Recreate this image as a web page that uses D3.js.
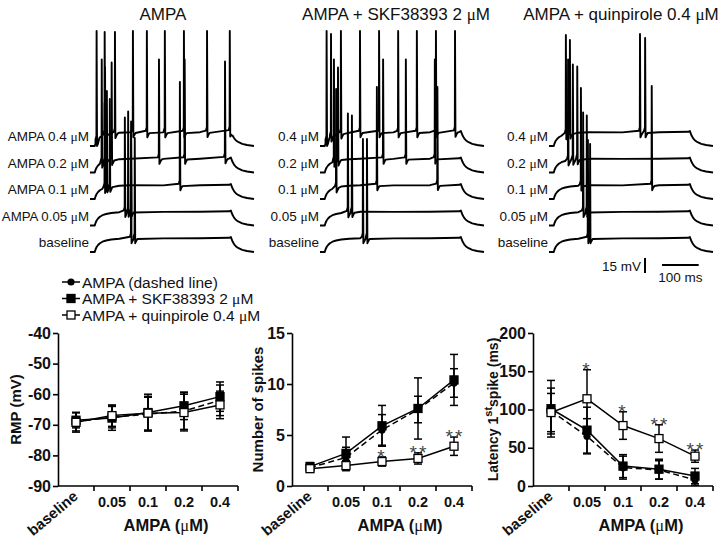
<!DOCTYPE html>
<html><head><meta charset="utf-8">
<script src="https://cdn.jsdelivr.net/npm/d3@7"></script>
<style>
body{margin:0;background:#fff}
svg{display:block}
text{font-family:Arial,"Liberation Sans",Helvetica,sans-serif;fill:#111}
</style>
</head><body>
<svg id="c" width="720" height="546"></svg>
<script>
// ---------------- DATA ----------------
const doses = ["baseline", "0.05", "0.1", "0.2", "0.4"];
const doseTickLabels = ["baseline", "0.05", "0.1", "0.2", "0.4"];
const panelTitles = ["AMPA", "AMPA + SKF38393 2 μM", "AMPA + quinpirole 0.4 μM"];
const traceLabelsAMPA = ["baseline", "AMPA 0.05 μM", "AMPA 0.1 μM", "AMPA 0.2 μM", "AMPA 0.4 μM"];
const traceLabelsOther = ["baseline", "0.05 μM", "0.1 μM", "0.2 μM", "0.4 μM"];

// passive response to the current step (ms, mV above rest)
const stepT = [0, 13, 15, 18, 22, 27, 34, 44, 58, 80, 110, 200, 300, 380, 384, 386, 389, 393, 398, 405, 415, 428, 447];
const stepV = [0, 0, 2.5, 5, 7, 8.8, 10.3, 11.5, 12.5, 13.3, 13.8, 13.6, 13.8, 14.2, 15, 12.8, 10.2, 7.6, 5.5, 3.8, 2.2, 1, 0];

// spikes per trace: [time ms, peak mV above rest]; traces ordered baseline -> 0.4
const spikesAMPA = [
  [[112, 120], [122, 114]],
  [[95, 108], [104, 114], [112, 104]],
  [[40, 96], [46, 108], [54, 100], [245, 117]],
  [[32, 113], [41, 105], [59, 110], [188, 113], [258, 113], [368, 111]],
  [[18, 115], [40, 114], [68, 114], [117, 115], [155, 115], [204, 115], [256, 115], [319, 115], [381, 115]]
];
const spikesSKF = [
  [[117, 113], [128, 113]],
  [[76, 112], [87, 110]],
  [[44, 110], [155, 112], [320, 112]],
  [[38, 113], [49, 105], [172, 113], [234, 113], [313, 113]],
  [[18, 115], [30, 112], [57, 115], [109, 115], [161, 115], [213, 115], [264, 115], [316, 115], [368, 115]]
];
const spikesQuin = [
  [[106, 112], [112, 108]],
  [[93, 113], [103, 110]],
  [[87, 111], [280, 113]],
  [[52, 113], [65, 108], [77, 106]],
  [[46, 111], [57, 106], [248, 112], [262, 108]]
];

// summary data (mean, sem)
const rmpAMPA = [-69, -67.5, -66.5, -65.5, -62];
const rmpAMPAsem = [3, 3.5, 5.5, 6, 5];
const rmpSKF = [-68.5, -67.8, -66, -63.8, -60.8];
const rmpSKFsem = [2.5, 4, 6, 4.5, 4.8];
const rmpQuin = [-69.2, -67, -66.2, -66, -63.5];
const rmpQuinsem = [3.2, 3.5, 5.5, 6, 4.5];

const spkAMPA = [1.8, 2.8, 5.5, 7.5, 10.1];
const spkAMPAsem = [0.4, 1.0, 1.5, 1.3, 1.4];
const spkSKF = [1.9, 3.2, 5.9, 7.6, 10.4];
const spkSKFsem = [0.4, 1.6, 2.0, 3.0, 2.5];
const spkQuin = [1.7, 2.0, 2.4, 2.7, 3.9];
const spkQuinsem = [0.3, 0.5, 0.45, 0.55, 0.9];
const spkStars = ["", "", "*", "**", "**"];

const latAMPA = [98, 65, 24, 21, 8];
const latAMPAsem = [30, 23, 15, 12, 7];
const latSKF = [101, 73, 26, 22, 13];
const latSKFsem = [37, 30, 15, 13, 10];
const latQuin = [96, 114, 79, 62, 39];
const latQuinsem = [25, 38, 18, 18, 8];
const latStars = ["", "*", "*", "**", "**"];

const rmpTicks = [-90, -80, -70, -60, -50, -40];
const spkTicks = [0, 5, 10, 15];
const latTicks = [0, 50, 100, 150, 200];

const legendNames = ["AMPA (dashed line)", "AMPA + SKF38393 2 μM", "AMPA + quinpirole 0.4 μM"];

// ---------------- DRAWING ----------------
const svg = d3.select("#c");
const SERIF = "'Liberation Serif','Times New Roman',serif";

function muText(sel, str, muWeight) {
  const parts = str.split("μ");
  parts.forEach((p, i) => {
    if (i > 0) sel.append("tspan").attr("font-family", SERIF).attr("font-weight", muWeight || "normal").text("μ");
    if (p) sel.append("tspan").text(p);
  });
  return sel;
}

// ---- traces ----
const traceDur = 447;
const panelStarts = [90, 320, 549];
const panelTitleX = [163, 396, 621];
const traceSpacing = 26.5;
const yTrace = d3.scaleLinear().domain([0, 250]).range([252, 2]);
const baseAt = d3.scaleLinear().domain(stepT).range(stepV);

function tracePoints(spikes) {
  const win = spikes.map(([t]) => [t - 3, t + 7]);
  const pts = [];
  stepT.forEach((t, i) => {
    if (!win.some(([a, b]) => t > a && t < b)) pts.push([t, stepV[i]]);
  });
  spikes.forEach(([t, pk]) => {
    const b = baseAt(t);
    pts.push([t - 3, b + 1.5], [t - 0.5, b + 5], [t, pk], [t + 1.2, b - 5],
             [t + 3.5, b - 3], [t + 7, baseAt(t + 7) - 0.8]);
  });
  pts.sort((a, b) => a[0] - b[0]);
  return pts;
}

const panels = [
  {title: panelTitles[0], spikes: spikesAMPA, labels: traceLabelsAMPA},
  {title: panelTitles[1], spikes: spikesSKF, labels: traceLabelsOther},
  {title: panelTitles[2], spikes: spikesQuin, labels: traceLabelsOther}
];

let xLast;
panels.forEach((p, pi) => {
  const x0 = panelStarts[pi];
  const xT = d3.scaleLinear().domain([0, traceDur]).range([x0, x0 + 164]);
  xLast = xT;
  const g = svg.append("g");
  muText(g.append("text").attr("x", panelTitleX[pi]).attr("y", 20)
    .attr("text-anchor", "middle").attr("font-size", 17), p.title);
  p.spikes.forEach((sp, ti) => {
    const off = ti * traceSpacing;
    const line = d3.line().x(d => xT(d[0])).y(d => yTrace(d[1] + off));
    g.append("path").attr("d", line(tracePoints(sp)))
      .attr("fill", "none").attr("stroke", "#000").attr("stroke-width", 1.9)
      .attr("stroke-linejoin", "round");
    const t = muText(g.append("text").attr("x", x0 - 1).attr("y", yTrace(off) - 5)
      .attr("text-anchor", "end").attr("font-size", 13.5), p.labels[ti]);
    // keep the label inside the picture
    let fs = 13.5;
    while (t.node().getBBox().x < 1 && fs > 10) { fs -= 0.25; t.attr("font-size", fs); }
  });
});

// scale bars
{
  const vx = 645, vy = 258;
  svg.append("line").attr("x1", vx).attr("x2", vx).attr("y1", vy)
    .attr("y2", vy + (yTrace(0) - yTrace(15))).attr("stroke", "#000").attr("stroke-width", 2);
  svg.append("text").attr("x", vx - 4).attr("y", 271).attr("text-anchor", "end")
    .attr("font-size", 13.5).text("15 mV");
  const hx = 662, hy = 265;
  svg.append("line").attr("x1", hx).attr("x2", hx + (xLast(100) - xLast(0)))
    .attr("y1", hy).attr("y2", hy).attr("stroke", "#000").attr("stroke-width", 2);
  svg.append("text").attr("x", hx + (xLast(100) - xLast(0)) / 2).attr("y", 282)
    .attr("text-anchor", "middle").attr("font-size", 13.5).text("100 ms");
}

// ---- legend ----
const legendY = [282, 298.5, 315];
const markerTypes = ["circle", "square", "open"];
function drawMarker(g, type, cx, cy) {
  if (type === "circle") {
    g.append("circle").attr("cx", cx).attr("cy", cy).attr("r", 3.6).attr("fill", "#000");
  } else {
    g.append("rect").attr("x", cx - 4).attr("y", cy - 4).attr("width", 8).attr("height", 8)
      .attr("fill", type === "open" ? "#fff" : "#000").attr("stroke", "#000").attr("stroke-width", 1.3);
  }
}
legendNames.forEach((n, i) => {
  const g = svg.append("g");
  g.append("line").attr("x1", 62).attr("x2", 80).attr("y1", legendY[i]).attr("y2", legendY[i])
    .attr("stroke", "#000").attr("stroke-width", 1.5);
  drawMarker(g, markerTypes[i], 71, legendY[i]);
  muText(g.append("text").attr("x", 82).attr("y", legendY[i] + 5.5).attr("font-size", 15.5), n);
});

// ---- charts ----
const chartX0 = [58, 292, 533];
const chartW = 180, yTop = 333, yBot = 486;
const charts = [
  {domain: [-90, -40], ticks: rmpTicks, label: "RMP (mV)", labelX: 20.5,
   series: [[rmpAMPA, rmpAMPAsem], [rmpSKF, rmpSKFsem], [rmpQuin, rmpQuinsem]], stars: null},
  {domain: [0, 15], ticks: spkTicks, label: "Number of spikes", labelX: 263,
   series: [[spkAMPA, spkAMPAsem], [spkSKF, spkSKFsem], [spkQuin, spkQuinsem]], stars: spkStars},
  {domain: [0, 200], ticks: latTicks, label: "latency", labelX: 497.5,
   series: [[latAMPA, latAMPAsem], [latSKF, latSKFsem], [latQuin, latQuinsem]], stars: latStars}
];

charts.forEach((c, ci) => {
  const x0 = chartX0[ci];
  const g = svg.append("g");
  const x = d3.scaleBand().domain(doses).range([x0, x0 + chartW]);
  const bw = x.bandwidth();
  const cx = d => x(d) + bw / 2;
  const y = d3.scaleLinear().domain(c.domain).range([yBot, yTop]);

  // y axis
  const ya = g.append("g").attr("transform", `translate(${x0},0)`)
    .call(d3.axisLeft(y).tickValues(c.ticks).tickSize(5).tickSizeOuter(0).tickPadding(2).tickFormat(d3.format("d")));
  ya.select(".domain").attr("stroke", "#000").attr("stroke-width", 1.6);
  ya.selectAll(".tick line").attr("stroke", "#000").attr("stroke-width", 1.6);
  ya.selectAll(".tick text").attr("font-size", 16).attr("font-weight", "bold")
    .attr("font-family", "Arial,'Liberation Sans',sans-serif").attr("fill", "#111")
    .text(d => d < 0 ? "-" + Math.abs(d) : d);

  // x axis
  g.append("line").attr("x1", x0).attr("x2", x0 + chartW).attr("y1", yBot).attr("y2", yBot)
    .attr("stroke", "#000").attr("stroke-width", 1.6);
  doses.forEach((d, i) => {
    g.append("line").attr("x1", x(d) + bw).attr("x2", x(d) + bw).attr("y1", yBot).attr("y2", yBot + 5)
      .attr("stroke", "#000").attr("stroke-width", 1.6);
    if (i === 0) {
      g.append("text").attr("transform", `translate(${cx(d) + 3},${yBot + 12}) rotate(-40)`)
        .attr("text-anchor", "end").attr("font-size", 15).attr("font-weight", "bold")
        .text(doseTickLabels[i]);
    } else {
      g.append("text").attr("x", cx(d)).attr("y", yBot + 21).attr("text-anchor", "middle")
        .attr("font-size", 14.5).attr("font-weight", "bold").text(doseTickLabels[i]);
    }
  });
  const titleX = (x(doses[1]) + x0 + chartW) / 2;
  muText(g.append("text").attr("x", titleX).attr("y", 531).attr("text-anchor", "middle")
    .attr("font-size", 16.5).attr("font-weight", "bold"), "AMPA (μM)");

  // y label
  const yl = g.append("text").attr("transform", `translate(${c.labelX},${(yTop + yBot) / 2}) rotate(-90)`)
    .attr("text-anchor", "middle").attr("font-weight", "bold");
  if (c.label === "latency") {
    yl.attr("font-size", 14);
    yl.append("tspan").text("Latency 1");
    yl.append("tspan").attr("font-size", 11).attr("dy", -6).text("st");
    yl.append("tspan").attr("dy", 6).text("spike (ms)");
  } else {
    yl.attr("font-size", 15).text(c.label);
  }

  // lines
  c.series.forEach(([m], si) => {
    const line = d3.line().x((v, i) => cx(doses[i])).y(v => y(v));
    g.append("path").attr("d", line(m)).attr("fill", "none").attr("stroke", "#000")
      .attr("stroke-width", 1.5).attr("stroke-dasharray", si === 0 ? "6,3.5" : null);
  });
  // error bars
  c.series.forEach(([m, s]) => {
    m.forEach((v, i) => {
      const px = cx(doses[i]);
      const hi = y(v + s[i]), lo = y(Math.max(v - s[i], c.domain[0]));
      g.append("line").attr("x1", px).attr("x2", px).attr("y1", hi).attr("y2", lo)
        .attr("stroke", "#000").attr("stroke-width", 1.5);
      [hi, lo].forEach(yy => g.append("line").attr("x1", px - 4).attr("x2", px + 4)
        .attr("y1", yy).attr("y2", yy).attr("stroke", "#000").attr("stroke-width", 1.5));
    });
  });
  // markers
  c.series.forEach(([m], si) => {
    m.forEach((v, i) => drawMarker(g, markerTypes[si], cx(doses[i]), y(v)));
  });
  // significance stars (on quinpirole series)
  if (c.stars) {
    const [m, s] = c.series[2];
    c.stars.forEach((st, i) => {
      if (!st) return;
      g.append("text").attr("x", cx(doses[i]) + (st.length > 1 ? 1 : 0)).attr("y", y(m[i] + s[i]) + 6)
        .attr("text-anchor", "middle").attr("font-size", 19).attr("letter-spacing", 2)
        .style("fill", "#444").text(st);
    });
  }
});
</script>
</body></html>
